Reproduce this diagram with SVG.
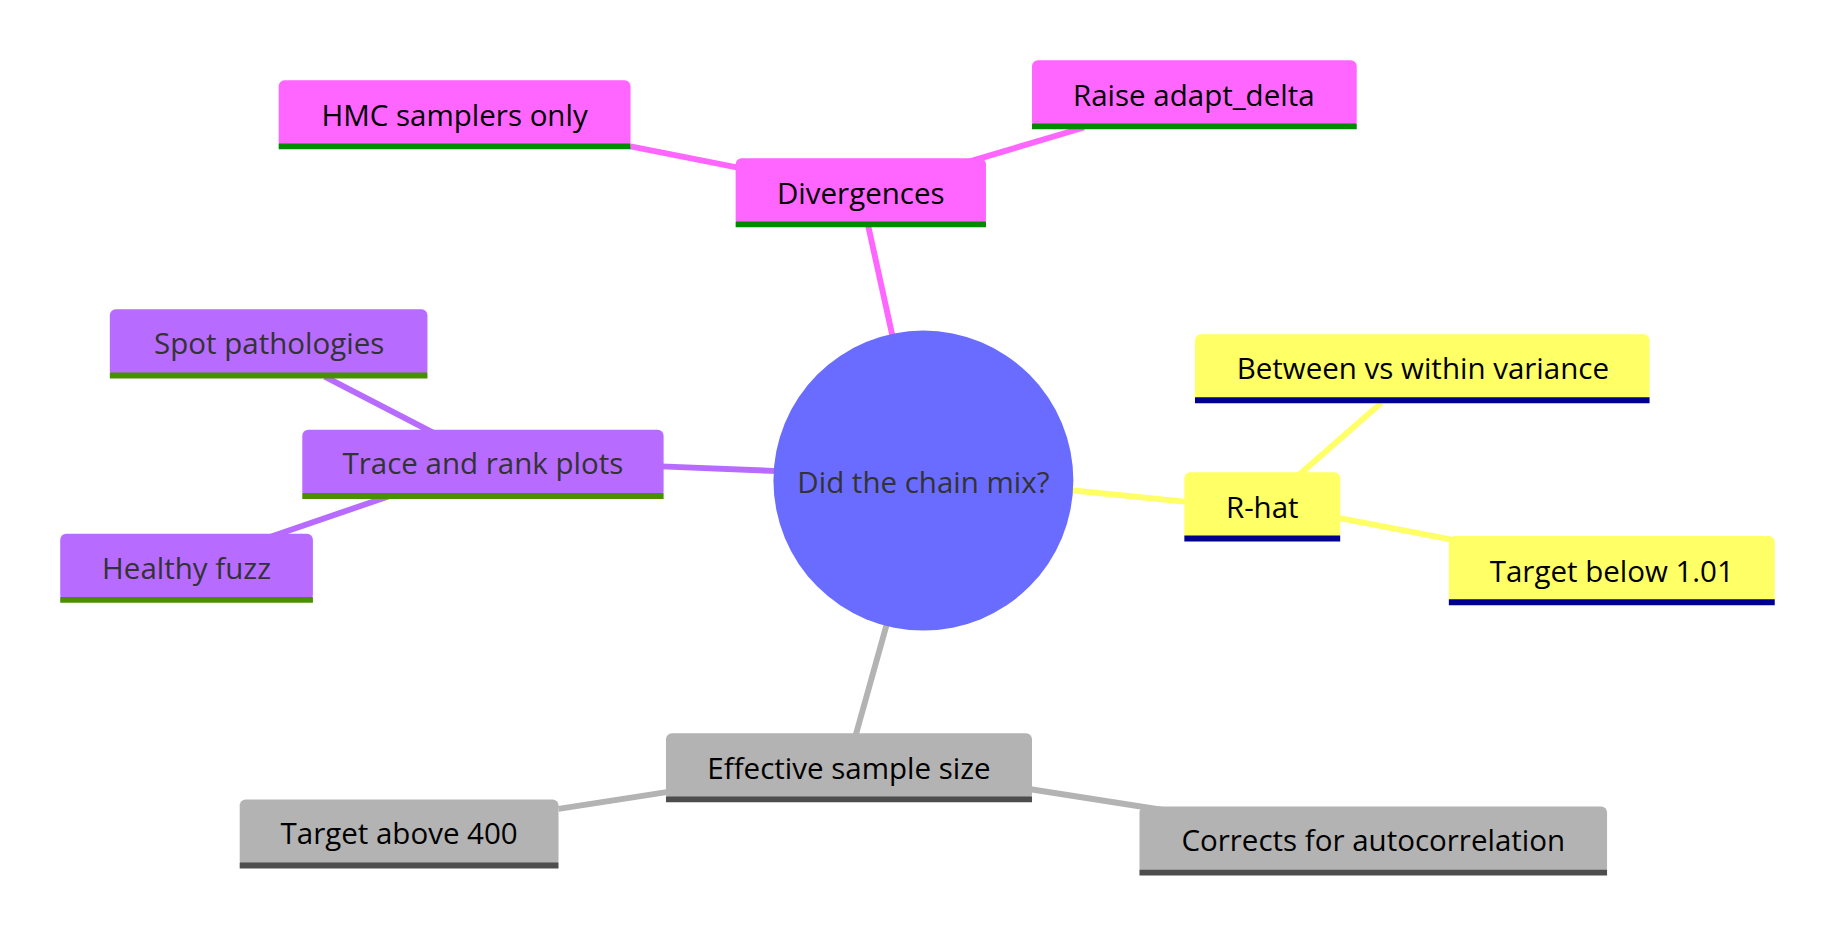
<svg xmlns="http://www.w3.org/2000/svg" width="1842" height="936" viewBox="0 0 1842 936">
<style>
text{font-family:"Segoe UI","Open Sans","Noto Sans",sans-serif;font-size:25px;text-anchor:middle;dominant-baseline:central}
.m rect{fill:#ff66ff}.m line{stroke:#008a00}
.p rect{fill:#b76bff}.p line{stroke:#4a8f00}.p text{fill:#333}
.y rect{fill:#ffff66}.y line{stroke:#00008f}
.g rect{fill:#b3b3b3}.g line{stroke:#4d4d4d}
g line{stroke-width:5}
#edges line{stroke-linecap:butt}
</style>
<rect width="1842" height="936" fill="#fff"/>
<g transform="scale(1.1808)">
<g id="edges">
<line x1="534" y1="124" x2="640" y2="145" stroke="#ff66ff" stroke-width="7"/>
<line x1="810" y1="140" x2="918" y2="108" stroke="#ff66ff" stroke-width="7"/>
<line x1="757" y1="290" x2="735" y2="190" stroke="#ff66ff" stroke-width="14"/>
<line x1="275" y1="319" x2="370" y2="368" stroke="#b76bff" stroke-width="7"/>
<line x1="228" y1="455" x2="330" y2="420" stroke="#b76bff" stroke-width="7"/>
<line x1="660" y1="399" x2="560" y2="395" stroke="#b76bff" stroke-width="14"/>
<line x1="1098" y1="404" x2="1170" y2="341" stroke="#ffff66" stroke-width="7"/>
<line x1="1130" y1="438" x2="1235" y2="458" stroke="#ffff66" stroke-width="7"/>
<line x1="905" y1="415" x2="1005" y2="425" stroke="#ffff66" stroke-width="12"/>
<line x1="473" y1="685" x2="570" y2="670" stroke="#b3b3b3" stroke-width="7"/>
<line x1="870" y1="668" x2="985" y2="686" stroke="#b3b3b3" stroke-width="7"/>
<line x1="752" y1="525" x2="724" y2="625" stroke="#b3b3b3" stroke-width="14"/>
</g>
<g id="root"><circle cx="782" cy="407" r="127" fill="#6a6cff"/><text x="782" y="408" fill="#333">Did the chain mix?</text></g>
<g id="divergences" class="m"><rect x="623" y="134" width="212" height="57" rx="5"/><line x1="623" y1="190" x2="835" y2="190"/><text x="729" y="163">Divergences</text></g>
<g id="hmc" class="m"><rect x="236" y="68" width="298" height="57" rx="5"/><line x1="236" y1="124" x2="534" y2="124"/><text x="385" y="97">HMC samplers only</text></g>
<g id="raise" class="m"><rect x="874" y="51" width="275" height="57" rx="5"/><line x1="874" y1="107" x2="1149" y2="107"/><text x="1011" y="80">Raise adapt_delta</text></g>
<g id="trace" class="p"><rect x="256" y="364" width="306" height="57" rx="5"/><line x1="256" y1="420" x2="562" y2="420"/><text x="409" y="392">Trace and rank plots</text></g>
<g id="spot" class="p"><rect x="93" y="262" width="269" height="57" rx="5"/><line x1="93" y1="318" x2="362" y2="318"/><text x="228" y="290">Spot pathologies</text></g>
<g id="fuzz" class="p"><rect x="51" y="452" width="214" height="57" rx="5"/><line x1="51" y1="508" x2="265" y2="508"/><text x="158" y="481">Healthy fuzz</text></g>
<g id="rhat" class="y"><rect x="1003" y="400" width="132" height="57" rx="5"/><line x1="1003" y1="456" x2="1135" y2="456"/><text x="1069" y="429">R-hat</text></g>
<g id="between" class="y"><rect x="1012" y="283" width="385" height="57" rx="5"/><line x1="1012" y1="339" x2="1397" y2="339"/><text x="1205" y="311">Between vs within variance</text></g>
<g id="below" class="y"><rect x="1227" y="454" width="276" height="57" rx="5"/><line x1="1227" y1="510" x2="1503" y2="510"/><text x="1365" y="483">Target below 1.01</text></g>
<g id="ess" class="g"><rect x="564" y="621" width="310" height="57" rx="5"/><line x1="564" y1="677" x2="874" y2="677"/><text x="719" y="650">Effective sample size</text></g>
<g id="above" class="g"><rect x="203" y="677" width="270" height="57" rx="5"/><line x1="203" y1="733" x2="473" y2="733"/><text x="338" y="705">Target above 400</text></g>
<g id="autocorr" class="g"><rect x="965" y="683" width="396" height="57" rx="5"/><line x1="965" y1="739" x2="1361" y2="739"/><text x="1163" y="711">Corrects for autocorrelation</text></g>
</g>
</svg>
